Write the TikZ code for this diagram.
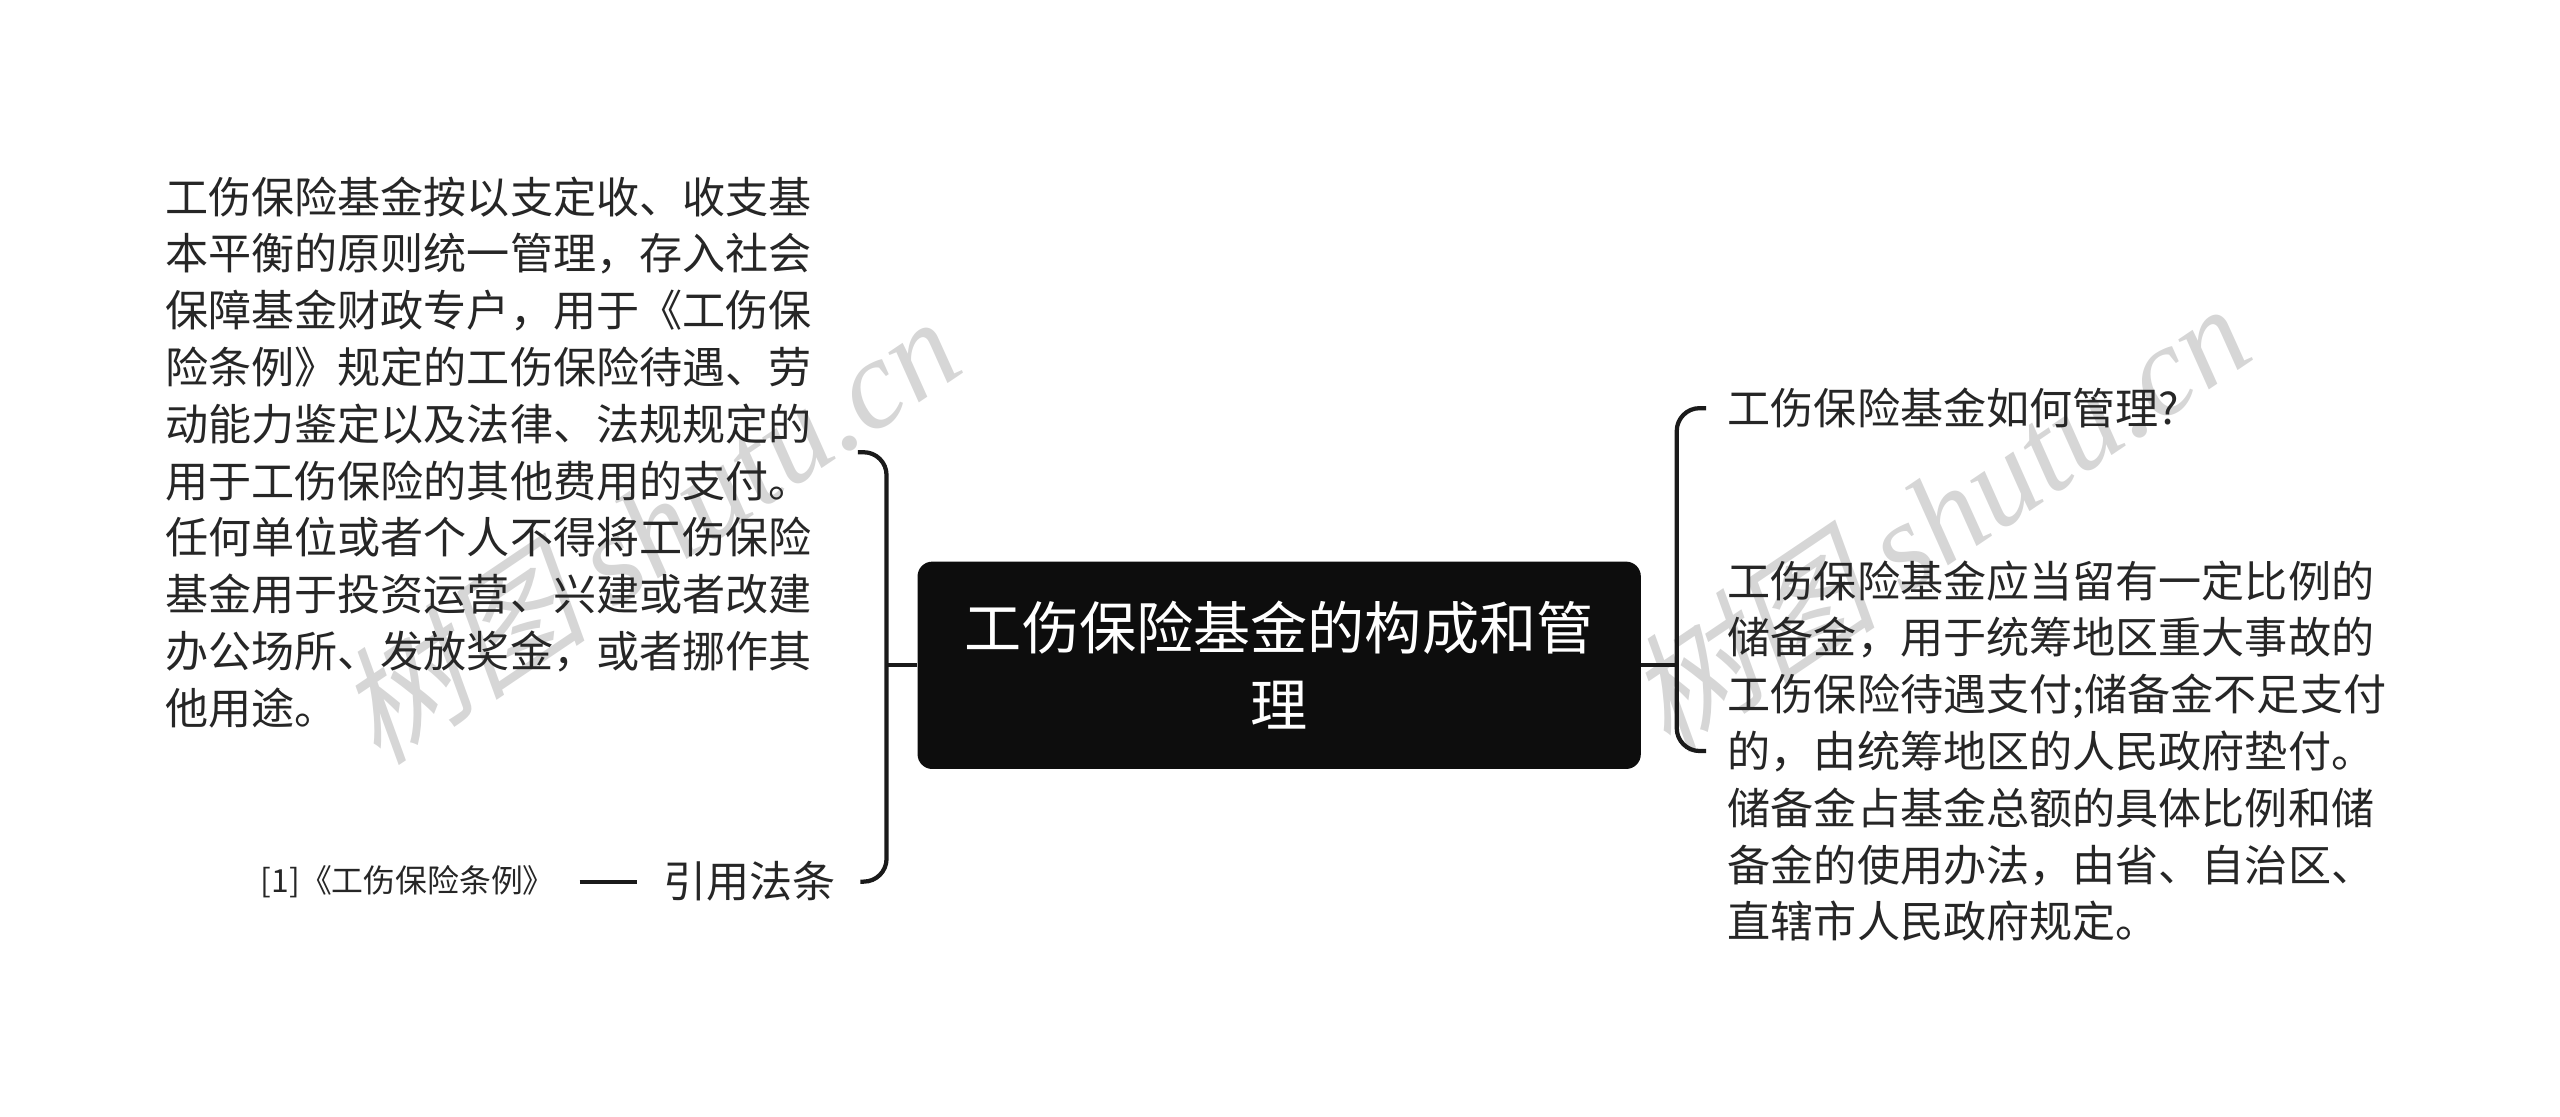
\documentclass[tikz,border=0pt]{standalone}
\usepackage{fontspec}
\setmainfont{Noto Sans CJK SC}
\newfontfamily\wmcjk[FakeSlant=0.25]{Noto Sans CJK SC}
\newfontfamily\wmlat{Liberation Serif}
\usepackage{tikz}
\usetikzlibrary{calc}

\definecolor{txtgray}{HTML}{262626}
\definecolor{rootfill}{HTML}{0D0D0D}
\definecolor{linegray}{HTML}{1A1A1A}
\definecolor{wmgray}{HTML}{D6D6D6}

\tikzset{
    leaf/.style={inner sep=0pt, text=txtgray, align=left,
        font=\fontsize{26.4}{34.8}\selectfont},
    branch/.style={draw=linegray, line width=2.6pt},
    watermark/.style={text=wmgray, rotate=34, inner sep=0pt,
        font=\fontsize{78}{78}\selectfont}
}

\begin{document}
\begin{tikzpicture}[x=1pt,y=-1pt]

\useasboundingbox (0,0) rectangle (1568,684);

% Watermarks
\node[watermark] (wmleft) at (396,324) {\wmcjk 树图\ \wmlat\itshape shutu.cn};
\node[watermark] (wmright) at (1186,316) {\wmcjk 树图\ \wmlat\itshape shutu.cn};

% Root
\node[fill=rootfill, rounded corners=9pt, minimum width=443pt,
    minimum height=127pt, inner sep=0pt, text=white, align=center,
    font=\fontsize{35}{47}\selectfont] (root) at (783.5,407.5)
    {工伤保险基金的构成和管\\理};

% Left side
\node[leaf, anchor=west] (fundrule) at (101,277)
    {工伤保险基金按以支定收、收支基\\
     本平衡的原则统一管理，存入社会\\
     保障基金财政专户，用于《工伤保\\
     险条例》规定的工伤保险待遇、劳\\
     动能力鉴定以及法律、法规规定的\\
     用于工伤保险的其他费用的支付。\\
     任何单位或者个人不得将工伤保险\\
     基金用于投资运营、兴建或者改建\\
     办公场所、发放奖金，或者挪作其\\
     他用途。};
\node[leaf, anchor=west] (cite) at (406,540) {引用法条};
\node[leaf, anchor=east, font=\fontsize{19.5}{24}\selectfont] (law) at (340,540)
    {[1]《工伤保险条例》};

\coordinate (lj) at (543,407.5);
\draw[branch] (root.west) -- (lj);
\draw[branch, rounded corners=14pt] ([xshift=28pt]fundrule.east) -| (lj) |- ([xshift=15pt]cite.east);
\draw[branch] ([xshift=15pt]law.east) -- ([xshift=-16pt]cite.west);

% Right side
\node[leaf, anchor=west] (howto) at (1058,250) {工伤保险基金如何管理?};
\node[leaf, anchor=west] (reserve) at (1058,460)
    {工伤保险基金应当留有一定比例的\\
     储备金，用于统筹地区重大事故的\\
     工伤保险待遇支付;储备金不足支付\\
     的，由统筹地区的人民政府垫付。\\
     储备金占基金总额的具体比例和储\\
     备金的使用办法，由省、自治区、\\
     直辖市人民政府规定。};

\coordinate (rj) at (1027,407.5);
\draw[branch] (root.east) -- (rj);
\draw[branch, rounded corners=14pt] ([xshift=-13pt]howto.west) -| (rj) |- ([xshift=-13pt]reserve.west);

\end{tikzpicture}
\end{document}
